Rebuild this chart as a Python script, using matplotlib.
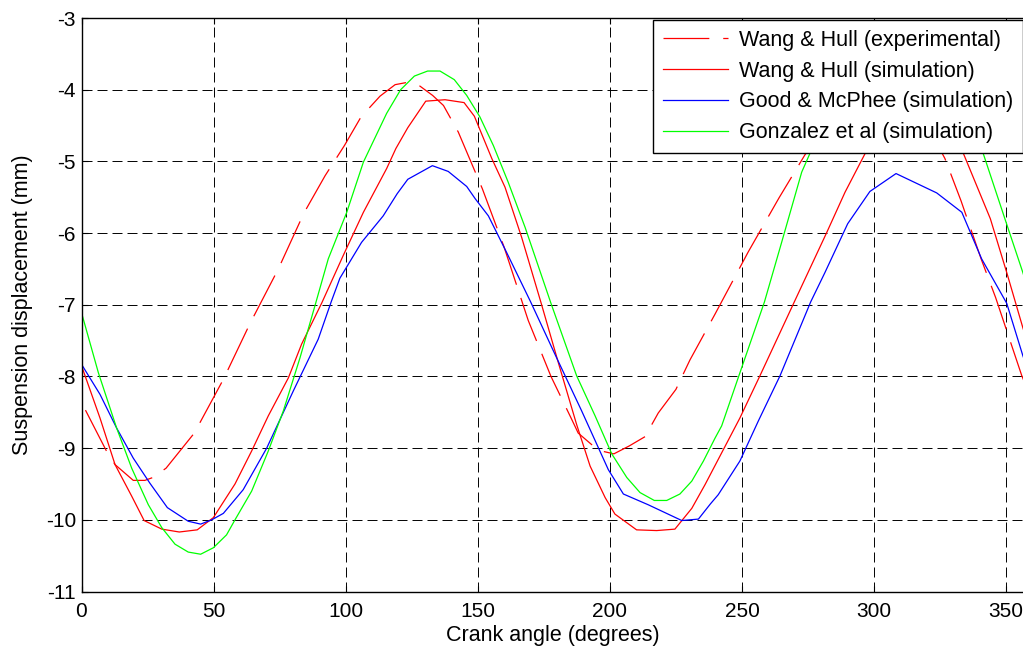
import matplotlib
matplotlib.use("Agg")
import matplotlib.pyplot as plt

plt.rcParams['font.family'] = ['Liberation Sans', 'DejaVu Sans']
plt.rcParams['axes.unicode_minus'] = False
plt.rcParams['lines.scale_dashes'] = False

# ---------------- data ----------------
exp_angle = [1.5, 9.3, 12.7, 19.6, 24, 27, 32, 42.7, 53.7, 63.8, 74.5, 84.2, 92.2, 99.5,
             105.8, 113, 118.7, 123, 128.1, 132.9, 137, 142.6, 151.7, 159.9, 169.1, 177.7,
             185.3, 188, 195.6, 201.5, 207.3, 213.3, 218.3, 225, 230.3, 239.8, 252.4, 264,
             273.8, 285, 295, 302, 310, 318, 326.8, 332.9, 340.5, 346, 355.9, 360]
exp_disp = [-8.47, -9.03, -9.23, -9.45, -9.45, -9.41, -9.28, -8.79, -8.04, -7.26, -6.50, -5.72,
            -5.20, -4.78, -4.38, -4.09, -3.93, -3.90, -3.95, -4.08, -4.22, -4.59, -5.38, -6.19,
            -7.22, -8.00, -8.58, -8.79, -9.03, -9.08, -8.97, -8.84, -8.51, -8.18, -7.77, -7.13,
            -6.26, -5.51, -4.91, -4.30, -3.98, -3.92, -4.00, -4.35, -4.96, -5.55, -6.36, -6.90,
            -7.99, -8.35]

wh_angle = [0, 7, 12.7, 19, 23.7, 30.4, 37, 43.8, 49.9, 58.1, 64.4, 70.7, 78.3, 83.3, 91,
            99.1, 106.7, 115.5, 119, 123.5, 130.3, 137.6, 144.8, 148.7, 155.3, 160.3, 166.6,
            174, 180.5, 187.4, 192.5, 198.2, 201.9, 210.1, 217.7, 224.6, 231, 236, 249.2,
            256.8, 269.8, 282.1, 289, 296.6, 305, 312, 318, 325, 329, 333.8, 344, 350.2,
            356.3, 360]
wh_disp = [-7.85, -8.58, -9.23, -9.67, -10.01, -10.13, -10.17, -10.14, -9.97, -9.50, -9.04,
           -8.55, -8.02, -7.55, -6.97, -6.31, -5.71, -5.10, -4.82, -4.53, -4.16, -4.14, -4.18,
           -4.37, -4.96, -5.36, -6.06, -6.98, -7.81, -8.67, -9.25, -9.69, -9.92, -10.14,
           -10.15, -10.13, -9.84, -9.51, -8.58, -7.99, -6.96, -5.99, -5.43, -4.89, -4.45,
           -4.20, -4.14, -4.20, -4.40, -4.89, -5.80, -6.55, -7.32, -7.75]

gm_angle = [0, 7, 13.3, 19.6, 25.9, 32.5, 40.4, 45.1, 49.3, 53.7, 61.2, 70.1, 80.2, 89.6,
            94.5, 97.8, 106, 114.2, 119.5, 123.5, 132.8, 138.8, 145.8, 149, 154, 160.9, 170,
            179.2, 189.3, 199.4, 205.1, 214.5, 227.2, 233.5, 238, 241, 249.2, 256.2, 264.4,
            276, 281.4, 290, 298.4, 308.3, 323.7, 333.2, 340.7, 350.2, 356.3, 360]
gm_disp = [-7.83, -8.25, -8.72, -9.14, -9.49, -9.83, -10.02, -10.06, -10.00, -9.91, -9.58,
           -9.00, -8.20, -7.48, -6.96, -6.63, -6.13, -5.76, -5.45, -5.25, -5.06, -5.14, -5.35,
           -5.52, -5.76, -6.27, -6.96, -7.69, -8.48, -9.30, -9.64, -9.79, -10.01, -9.99,
           -9.78, -9.65, -9.18, -8.62, -7.99, -6.96, -6.55, -5.87, -5.42, -5.17, -5.44, -5.71,
           -6.36, -6.98, -7.71, -8.10]

gz_angle = [0, 6.4, 13.3, 19, 25.3, 30.4, 35.4, 40.4, 45.1, 49.9, 54.9, 58.1, 64.4, 70.7,
            76.4, 82.7, 88.7, 93.4, 100.4, 106.7, 115.5, 120.8, 126, 131, 135.7, 141.1, 145.8,
            150.8, 155.9, 161.5, 167.9, 177.6, 187.4, 194.4, 200.7, 206.4, 211.4, 216.8,
            221.5, 226.5, 231, 235.4, 239.8, 242.3, 249.2, 258.5, 265, 272.6, 275.7, 282,
            290, 300, 308, 316, 326, 334, 341.3, 349.5, 356.3, 360]
gz_disp = [-7.11, -7.95, -8.72, -9.28, -9.79, -10.11, -10.34, -10.45, -10.48, -10.39, -10.21,
           -10.00, -9.60, -9.04, -8.48, -7.74, -6.97, -6.36, -5.71, -5.01, -4.33, -4.00,
           -3.81, -3.74, -3.74, -3.86, -4.08, -4.38, -4.78, -5.29, -5.92, -6.97, -7.99, -8.55,
           -9.08, -9.41, -9.62, -9.73, -9.73, -9.64, -9.46, -9.18, -8.86, -8.69, -7.95, -6.96,
           -6.13, -5.15, -4.89, -4.30, -3.95, -3.75, -3.70, -3.75, -4.00, -4.35, -4.89, -5.80,
           -6.55, -7.00]

labels = ["Wang & Hull (experimental)", "Wang & Hull (simulation)",
          "Good & McPhee (simulation)", "Gonzalez et al (simulation)"]
xticks = [0, 50, 100, 150, 200, 250, 300, 350]
yticks = [-11, -10, -9, -8, -7, -6, -5, -4, -3]

# ---------------- figure ----------------
W, H = 1023, 651
fig = plt.figure(figsize=(W / 100, H / 100), dpi=100)
x0, x1 = 81.5, 81.5 + 360 * 2.642
y_top, y_bot = 18.0, 591.5
ax = fig.add_axes([x0 / W, 1 - y_bot / H, (x1 - x0) / W, (y_bot - y_top) / H])

lw = 0.9
ax.plot(exp_angle, exp_disp, color=(1, 0, 0), lw=lw, dashes=(33, 10), label=labels[0])
ax.plot(wh_angle, wh_disp, color=(1, 0, 0), lw=lw, label=labels[1])
ax.plot(gm_angle, gm_disp, color=(0, 0, 1), lw=lw, label=labels[2])
ax.plot(gz_angle, gz_disp, color=(0, 1, 0), lw=lw, label=labels[3])

ax.set_xlim(0, 360)
ax.set_ylim(-11, -3)
ax.set_xticks(xticks)
ax.set_yticks(yticks)
ax.tick_params(direction='in', top=True, right=True, length=4, width=0.8,
               labelsize=15, colors='k')
ax.tick_params(axis='x', pad=7.5)
ax.tick_params(axis='y', pad=4)
ax.grid(True, color='k', linestyle=(0, (7.2, 3.6)), linewidth=0.7)
ax.set_axisbelow(True)
for s in ax.spines.values():
    s.set_linewidth(1.0)
    s.set_color('k')

ax.set_xlabel("Crank angle (degrees)", fontsize=15.5)
ax.set_ylabel("Suspension displacement (mm)", fontsize=15.5)
ax.xaxis.set_label_coords(0.4957, -0.058)
ax.yaxis.set_label_coords(-0.051, 0.5)

leg = ax.legend(loc='upper left', bbox_to_anchor=(653 / W, 1 - 20 / H),
                bbox_transform=fig.transFigure, borderaxespad=0, fontsize=15.5,
                fancybox=False, framealpha=1, edgecolor='k', handlelength=3.05,
                handletextpad=0.5, borderpad=0.45, labelspacing=0.46)
leg.get_frame().set_linewidth(1.0)

fig.savefig("out.png", dpi=100)
